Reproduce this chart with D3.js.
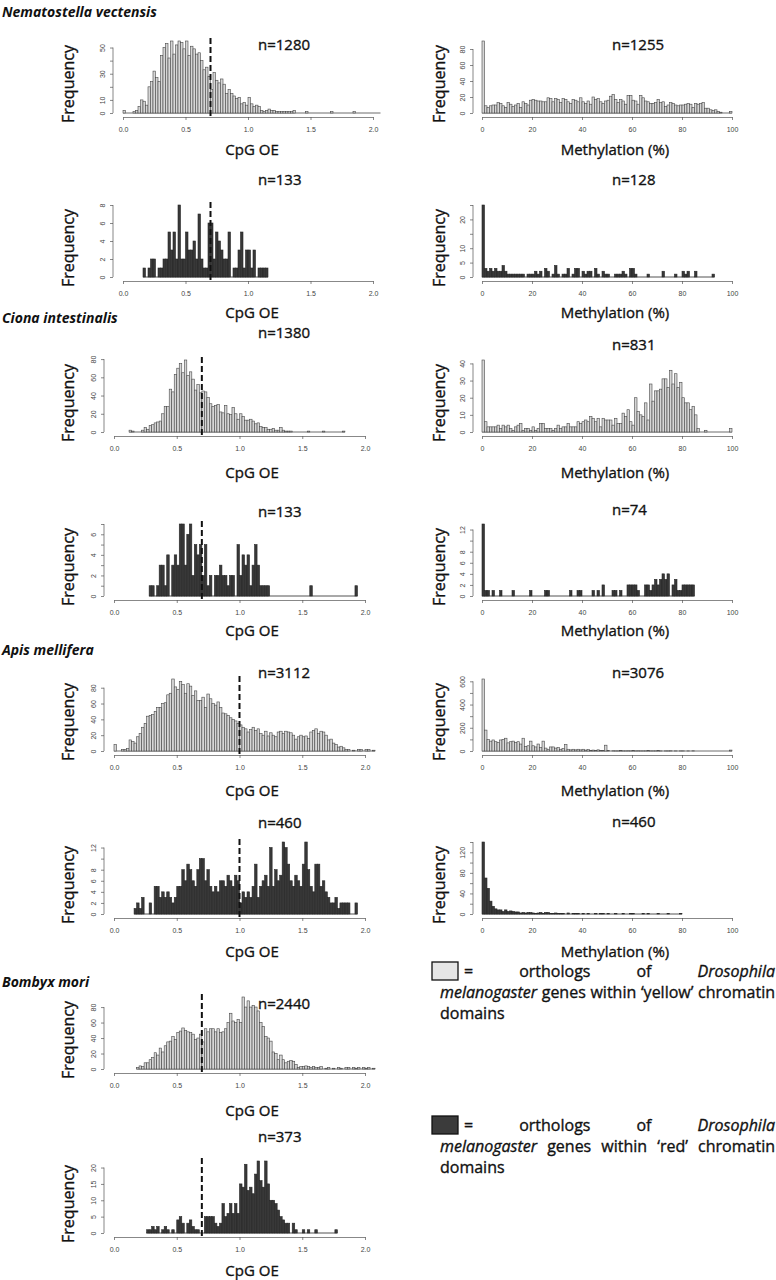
<!DOCTYPE html>
<html>
<head>
<meta charset="utf-8">
<script src="https://cdn.jsdelivr.net/npm/d3@7"></script>
<style>
body { margin: 0; background: #fff; }
text { font-family: "Open Sans", "Noto Sans", sans-serif; fill: #111; }
.lab { stroke: #111; stroke-width: 0.35; }
.tick text { font-family: "Liberation Sans", Arial, sans-serif; font-size: 7px; fill: #444; stroke: none; }
</style>
</head>
<body>
<svg id="chart" width="776" height="1280"></svg>
<script>
// tick labels
var cpgTicks = [0, 0.5, 1, 1.5, 2];
var cpgTickLabels = ["0.0", "0.5", "1.0", "1.5", "2.0"];
var methTicks = [0, 20, 40, 60, 80, 100];
var methTickLabels = ["0", "20", "40", "60", "80", "100"];
var cpgBinWidth = 0.02;
var methBinWidth = 1;

// counts per bin (CpG bins of 0.02, methylation bins of 1%)
var nemaCpgYellowStart = 0.00;
var nemaCpgYellow = [2,0,0,0,1,2,5,10,9,6, 20,24,32,27,24,44,50,53,42,55, 45,52,55,54,49,55,44,51,49,45,
  46,40,33,35,28,18,31,25,23,26, 22,15,18,15,13,11,12,7,8,6, 12,7,5,6,5,2,1,2,3,2,
  2,1,1,1,1,1,1,1,2,0, 0,0,0,1,0,0,0,0,0,0, 0,0,0,1,0,0,0,0,0,0, 0,0,1,0,0,0,0,0,0,0, 0,0,0];
var nemaMethYellow = [90,9,7,9,10,10,13,12,9,7, 13,11,8,10,12,7,14,12,10,16, 17,16,15,15,14,14,19,18,14,18,
  17,13,18,17,14,12,17,16,14,19, 14,12,15,11,20,17,18,14,12,15, 16,21,23,17,13,17,15,11,22,22,
  16,15,11,22,19,15,14,12,12,13, 17,13,14,8,10,13,12,10,9,10, 10,11,12,11,7,12,11,12,13,6,
  6,4,3,4,2,1,0,0,0,2];
var nemaCpgRedStart = 0.16;
var nemaCpgRed = [1,0,1,2,2,0,1,1,2,2, 5,3,5,2,8,2,2,5,3,3, 4,2,7,2,1,1,6,6,2,5,
  4,3,2,2,5,0,1,1,3,5, 1,3,3,1,3,0,1,1,1,1];
var nemaMethRed = [25,3,2,3,2,3,2,2,4,2, 1,1,1,1,1,1,1,0,1,1, 1,2,1,2,0,3,2,0,1,4,
  1,0,1,1,3,0,1,3,3,0, 2,1,2,2,0,3,1,0,2,1, 1,0,0,1,1,1,2,1,0,3,
  3,1,0,0,0,0,1,0,0,0, 0,0,2,0,0,0,0,1,0,0, 2,1,2,0,0,2,0,0,0,0, 0,0,1];

var cionaCpgYellowStart = 0.12;
var cionaCpgYellow = [2,1,0,0,0,2,5,3,7,8, 10,11,12,20,28,28,47,44,63,70, 75,65,79,62,66,58,46,52,43,45,
  44,38,31,28,29,30,22,21,29,20, 19,27,20,14,20,17,13,13,14,12, 9,10,6,5,5,3,3,4,2,2,
  5,2,1,1,1,0,0,0,0,0, 0,1,0,0,0,0,0,1,0,0, 0,0,0,0,0,1];
var cionaMethYellow = [42,6,3,3,3,3,4,2,4,3, 4,2,1,3,4,5,1,2,2,1, 3,1,2,5,5,2,2,2,1,2,
  4,2,3,3,5,3,3,3,6,5, 6,7,6,9,8,6,8,3,8,7, 7,7,4,8,5,5,11,9,13,6,
  4,20,12,10,9,17,7,28,18,24, 24,25,31,31,26,36,28,34,26,29, 20,17,17,13,15,10,2,0,0,1,
  0,0,0,0,0,0,0,0,0,2];
var cionaCpgRedStart = 0.28;
var cionaCpgRed = [1,1,0,1,3,3,1,4,0,3, 4,3,7,7,3,6,7,2,5,4, 5,2,5,1,2,0,2,2,3,2,
  2,1,2,2,0,5,2,4,3,4, 1,3,5,3,1,1,1,1,0,0, 0,0,0,0,0,0,0,0,0,0,
  0,0,0,0,1,0,0,0,0,0, 0,0,0,0,0,0,0,0,0,0, 0,0,1];
var cionaMethRed = [13,1,1,0,1,0,0,1,0,0, 0,0,1,0,0,0,0,0,0,1, 0,0,0,0,0,1,1,0,0,0,
  0,0,0,0,0,1,0,0,1,1, 0,0,0,0,1,0,1,0,2,0, 0,0,1,1,0,1,0,0,2,2,
  2,2,1,0,0,2,2,1,2,3, 2,3,4,3,4,0,2,3,1,1, 2,2,2,2,2];

var apisCpgYellowStart = 0.00;
var apisCpgYellow = [8,0,0,2,2,3,14,12,10,18, 22,30,35,44,45,46,50,55,55,60, 61,71,73,91,81,78,88,84,73,85,
  82,70,76,64,64,68,55,72,66,60, 58,62,55,48,47,45,42,40,38,35, 33,30,28,24,27,30,26,28,22,20,
  25,19,23,20,18,24,25,22,25,24, 23,20,15,18,20,18,19,16,24,26, 28,22,25,24,20,14,15,10,8,5,
  6,4,2,2,0,1,0,2,2,0, 2,2,0,1];
var apisMethYellow = [620,180,100,85,95,80,75,95,100,110, 70,80,85,75,80,60,110,40,45,85, 45,35,60,30,85,25,15,35,35,25,
  30,15,20,55,15,10,15,10,15,10, 15,8,12,6,8,5,10,3,5,50, 3,0,2,1,1,3,1,1,2,1,
  3,1,2,1,1,1,5,1,1,1, 3,1,0,1,1,2,0,1,0,1, 1,0,1,0,2,0,0,0,0,0, 0,0,0,0,0,0,0,0,0,8];
var apisCpgRedStart = 0.16;
var apisCpgRed = [1,2,1,3,0,0,2,0,5,5, 3,4,3,4,3,2,3,5,5,8, 6,9,8,6,5,8,10,10,6,8,
  5,4,5,4,6,6,5,7,6,5, 7,6,2,4,3,4,3,5,9,3, 5,6,7,5,12,5,8,6,7,13,
  12,9,6,5,7,6,5,9,13,8, 5,4,9,9,5,6,4,3,2,2, 3,1,2,2,2,2,0,0,2];
var apisMethRed = [140,70,50,25,15,10,8,8,5,8, 5,6,5,4,4,2,3,2,3,3, 2,1,2,3,1,3,3,1,1,2,
  1,1,1,0,2,0,1,1,1,0, 1,0,1,0,0,1,0,1,1,0, 1,0,0,1,0,0,1,0,0,1,
  1,0,0,0,1,0,1,0,0,0, 1,0,0,0,1,0,0,0,0,1];

var bombyxCpgYellowStart = 0.18;
var bombyxCpgYellow = [2,4,3,8,8,12,15,21,18,27, 22,30,35,36,42,38,47,49,53,50, 48,47,45,38,40,45,35,52,48,52,
  52,48,52,47,48,52,60,72,62,60, 64,60,93,80,88,80,82,80,75,60, 55,42,40,36,22,20,12,18,12,8,
  10,11,10,6,2,3,3,4,3,2, 3,2,2,3,0,1,2,0,1,0, 2,1,0,2,2,0,2,1,2,0, 2,1,2,0,1];
var bombyxCpgRedStart = 0.26;
var bombyxCpgRed = [1,1,2,1,2,0,1,2,1,0, 1,0,4,5,3,0,3,4,2,1, 1,0,0,5,5,5,5,3,2,3,
  9,5,6,9,6,9,6,15,14,21, 13,14,12,18,22,16,14,22,15,10, 10,9,7,5,4,3,3,0,3,1,
  0,0,1,0,1,0,0,1,0,0, 0,0,0,0,0,1];

// y tick positions and which of them carry a label
var ticksNemaCpgYellow = [0,10,20,30,40,50], labelsNemaCpgYellow = [0,10,30,50];
var ticksNemaMethYellow = [0,20,40,60,80], labelsNemaMethYellow = [0,20,40,60,80];
var ticksNemaCpgRed = [0,2,4,6,8], labelsNemaCpgRed = [0,2,4,6,8];
var ticksNemaMethRed = [0,5,10,15,20,25], labelsNemaMethRed = [0,5,10,20];
var ticksCionaCpgYellow = [0,20,40,60,80], labelsCionaCpgYellow = [0,20,40,60,80];
var ticksCionaMethYellow = [0,10,20,30,40], labelsCionaMethYellow = [0,10,20,30,40];
var ticksCionaCpgRed = [0,1,2,3,4,5,6,7], labelsCionaCpgRed = [0,2,4,6];
var ticksCionaMethRed = [0,2,4,6,8,10,12], labelsCionaMethRed = [0,2,4,6,8,12];
var ticksApisCpgYellow = [0,20,40,60,80], labelsApisCpgYellow = [0,20,40,60,80];
var ticksApisMethYellow = [0,100,200,300,400,500,600], labelsApisMethYellow = [0,200,400,600];
var ticksApisCpgRed = [0,2,4,6,8,10,12], labelsApisCpgRed = [0,2,4,6,8,12];
var ticksApisMethRed = [0,20,40,60,80,100,120,140], labelsApisMethRed = [0,40,80,120];
var ticksBombyxCpgYellow = [0,20,40,60,80], labelsBombyxCpgYellow = [0,20,40,60,80];
var ticksBombyxCpgRed = [0,5,10,15,20], labelsBombyxCpgRed = [0,5,10,15,20];

var species = ["Nematostella vectensis", "Ciona intestinalis", "Apis mellifera", "Bombyx mori"];
var legendYellow = ["=", "orthologs", "of", "Drosophila", "melanogaster", "genes", "within", "\u2018yellow\u2019", "chromatin", "domains"];
var legendRed = ["=", "orthologs", "of", "Drosophila", "melanogaster", "genes", "within", "\u2018red\u2019", "chromatin", "domains"];

var svg = d3.select("#chart");
svg.append("rect").attr("width", 776).attr("height", 1280).attr("fill", "#fff");

// layout of the eight rows
var rowBase = [113, 277, 432, 596, 751, 914, 1069, 1233];
var rowXLab = [149, 312, 472, 630, 790, 951, 1110, 1270];
var leftNY = [45, 180, 333, 512, 673, 823, 1004, 1137];
var rightNY = [45, 180, 345, 510, 673, 822];
var speciesY = [17, 323, 655, 987];

var nemaX = [123, 373], otherX = [114, 365], methX = [482, 732];

var panels = [
  {row: 0, side: "L", kind: "cpg", tone: "y", data: nemaCpgYellow, start: nemaCpgYellowStart, n: "n=1280", cut: 0.7, xr: nemaX, ax: 113, yt: ticksNemaCpgYellow, yl: labelsNemaCpgYellow},
  {row: 0, side: "R", kind: "meth", tone: "y", data: nemaMethYellow, start: 0, n: "n=1255", xr: methX, ax: 473, yt: ticksNemaMethYellow, yl: labelsNemaMethYellow},
  {row: 1, side: "L", kind: "cpg", tone: "r", data: nemaCpgRed, start: nemaCpgRedStart, n: "n=133", cut: 0.7, xr: nemaX, ax: 113, yt: ticksNemaCpgRed, yl: labelsNemaCpgRed},
  {row: 1, side: "R", kind: "meth", tone: "r", data: nemaMethRed, start: 0, n: "n=128", xr: methX, ax: 473, yt: ticksNemaMethRed, yl: labelsNemaMethRed},
  {row: 2, side: "L", kind: "cpg", tone: "y", data: cionaCpgYellow, start: cionaCpgYellowStart, n: "n=1380", cut: 0.7, xr: otherX, ax: 104, yt: ticksCionaCpgYellow, yl: labelsCionaCpgYellow},
  {row: 2, side: "R", kind: "meth", tone: "y", data: cionaMethYellow, start: 0, n: "n=831", xr: methX, ax: 473, yt: ticksCionaMethYellow, yl: labelsCionaMethYellow},
  {row: 3, side: "L", kind: "cpg", tone: "r", data: cionaCpgRed, start: cionaCpgRedStart, n: "n=133", cut: 0.7, xr: otherX, ax: 104, yt: ticksCionaCpgRed, yl: labelsCionaCpgRed},
  {row: 3, side: "R", kind: "meth", tone: "r", data: cionaMethRed, start: 0, n: "n=74", xr: methX, ax: 473, yt: ticksCionaMethRed, yl: labelsCionaMethRed},
  {row: 4, side: "L", kind: "cpg", tone: "y", data: apisCpgYellow, start: apisCpgYellowStart, n: "n=3112", cut: 1.0, xr: otherX, ax: 104, yt: ticksApisCpgYellow, yl: labelsApisCpgYellow},
  {row: 4, side: "R", kind: "meth", tone: "y", data: apisMethYellow, start: 0, n: "n=3076", xr: methX, ax: 473, yt: ticksApisMethYellow, yl: labelsApisMethYellow},
  {row: 5, side: "L", kind: "cpg", tone: "r", data: apisCpgRed, start: apisCpgRedStart, n: "n=460", cut: 1.0, xr: otherX, ax: 104, yt: ticksApisCpgRed, yl: labelsApisCpgRed},
  {row: 5, side: "R", kind: "meth", tone: "r", data: apisMethRed, start: 0, n: "n=460", xr: methX, ax: 473, yt: ticksApisMethRed, yl: labelsApisMethRed},
  {row: 6, side: "L", kind: "cpg", tone: "y", data: bombyxCpgYellow, start: bombyxCpgYellowStart, n: "n=2440", cut: 0.7, xr: otherX, ax: 104, yt: ticksBombyxCpgYellow, yl: labelsBombyxCpgYellow},
  {row: 7, side: "L", kind: "cpg", tone: "r", data: bombyxCpgRed, start: bombyxCpgRedStart, n: "n=373", cut: 0.7, xr: otherX, ax: 104, yt: ticksBombyxCpgRed, yl: labelsBombyxCpgRed}
];

function drawPanel(p) {
  var isCpg = p.kind === "cpg";
  var w = isCpg ? cpgBinWidth : methBinWidth;
  var base = rowBase[p.row];
  var x = d3.scaleLinear().domain(isCpg ? [0, 2] : [0, 100]).range(p.xr);
  var y = d3.scaleLinear().domain([0, d3.max(p.data)]).range([base, base - 72]);
  var bins = p.data.map(function (c, i) {
    return {x0: p.start + i * w, x1: p.start + (i + 1) * w, c: c};
  });
  var fill = p.tone === "y" ? "#d6d6d6" : "#383838";
  var edge = p.tone === "y" ? "#474747" : "#262626";
  var g = svg.append("g");

  // zero-height bins show as a line along the base
  g.append("line")
    .attr("x1", x(bins[0].x0)).attr("x2", x(bins[bins.length - 1].x1))
    .attr("y1", y(0)).attr("y2", y(0))
    .attr("stroke", edge).attr("stroke-width", 0.8);

  g.selectAll("rect.bar")
    .data(bins.filter(function (d) { return d.c > 0; }))
    .enter()
    .append("rect")
    .attr("class", "bar")
    .attr("x", function (d) { return x(d.x0); })
    .attr("width", function (d) { return x(d.x1) - x(d.x0); })
    .attr("y", function (d) { return y(d.c); })
    .attr("height", function (d) { return y(0) - y(d.c); })
    .attr("fill", fill)
    .attr("stroke", edge)
    .attr("stroke-width", 0.6);

  // x axis
  var xt = isCpg ? cpgTicks : methTicks;
  var xl = isCpg ? cpgTickLabels : methTickLabels;
  var xAxis = d3.axisBottom(x).tickValues(xt)
    .tickFormat(function (d, i) { return xl[i]; })
    .tickSizeOuter(0).tickSizeInner(3).tickPadding(7);
  var gx = g.append("g").attr("transform", "translate(0," + (base + 4) + ")").call(xAxis);
  gx.selectAll(".domain, .tick line").attr("stroke", "#555").attr("stroke-width", 0.7);

  // y axis
  var yAxis = d3.axisLeft(y).tickValues(p.yt)
    .tickFormat(function (d) { return p.yl.indexOf(d) >= 0 ? d : ""; })
    .tickSizeOuter(0).tickSizeInner(3);
  var gy = g.append("g").attr("transform", "translate(" + p.ax + ",0)").call(yAxis);
  gy.select(".domain").remove();
  gy.append("line").attr("y1", y(0)).attr("y2", y(d3.max(p.yt)))
    .attr("stroke", "#555").attr("stroke-width", 0.7);
  gy.selectAll(".tick line").attr("stroke", "#555").attr("stroke-width", 0.7);
  gy.selectAll(".tick text")
    .attr("x", null).attr("dy", null)
    .attr("text-anchor", "middle")
    .attr("transform", "translate(-8,0) rotate(-90)");

  // cut-off line
  if (p.cut !== undefined) {
    g.append("line")
      .attr("x1", x(p.cut)).attr("x2", x(p.cut))
      .attr("y1", base - 75).attr("y2", base + 4)
      .attr("stroke", "#111").attr("stroke-width", 2)
      .attr("stroke-dasharray", "6,3");
  }

  var left = p.side === "L";
  g.append("text")
    .attr("class", "lab")
    .attr("x", left ? 258 : 612)
    .attr("y", (left ? leftNY[p.row] : rightNY[p.row]) + 5)
    .attr("font-size", 15)
    .text(p.n);

  g.append("text")
    .attr("class", "lab")
    .attr("transform", "translate(" + (left ? 68 : 439) + "," + (base - 29) + ") rotate(-90)")
    .attr("text-anchor", "middle")
    .attr("dominant-baseline", "central")
    .attr("font-size", 16)
    .text("Frequency");

  g.append("text")
    .attr("class", "lab")
    .attr("x", left ? 252 : 615)
    .attr("y", rowXLab[p.row])
    .attr("text-anchor", "middle")
    .attr("dominant-baseline", "central")
    .attr("font-size", 15)
    .text(isCpg ? "CpG OE" : "Methylation (%)");
}

panels.forEach(drawPanel);

species.forEach(function (s, i) {
  svg.append("text")
    .attr("x", 2).attr("y", speciesY[i])
    .attr("font-size", 14).attr("font-weight", "bold").attr("font-style", "italic")
    .text(s);
});

// justified legend text
var italicWords = ["Drosophila", "melanogaster"];
function justifyLine(words, x0, x1, yb) {
  var g = svg.append("g");
  var nodes = words.map(function (w) {
    return g.append("text").attr("class", "lab").attr("y", yb).attr("font-size", 16)
      .attr("font-style", italicWords.indexOf(w) >= 0 ? "italic" : null)
      .text(w);
  });
  var widths = nodes.map(function (n) { return n.node().getComputedTextLength(); });
  var gap = words.length > 1 ? (x1 - x0 - d3.sum(widths)) / (words.length - 1) : 0;
  var cx = x0;
  nodes.forEach(function (n, i) { n.attr("x", cx); cx += widths[i] + gap; });
}

function drawLegend(words, top, fill) {
  svg.append("rect").attr("x", 432).attr("y", top).attr("width", 26).attr("height", 18)
    .attr("fill", fill).attr("stroke", "#111").attr("stroke-width", 1.3);
  justifyLine(words.slice(0, 4), 464, 775, top + 15);
  justifyLine(words.slice(4, 9), 440, 775, top + 36);
  justifyLine(words.slice(9), 440, 775, top + 57);
}
drawLegend(legendYellow, 962, "#e6e6e6");
drawLegend(legendRed, 1116, "#3b3b3b");
</script>
</body>
</html>
